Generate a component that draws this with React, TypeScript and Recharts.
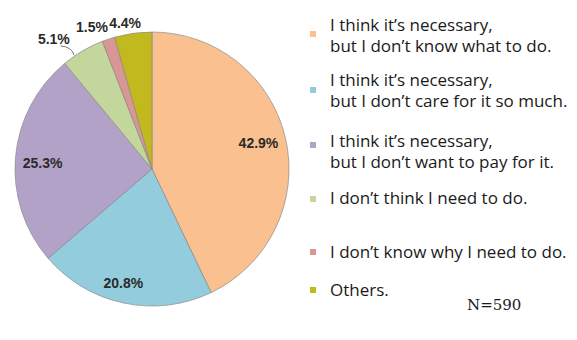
import React from "react";
import { PieChart, Pie, Cell, Legend } from "recharts";

const categories = [
  "I think it\u2019s necessary,\nbut I don\u2019t know what to do.",
  "I think it\u2019s necessary,\nbut I don\u2019t care for it so much.",
  "I think it\u2019s necessary,\nbut I don\u2019t want to pay for it.",
  "I don\u2019t think I need to do.",
  "I don\u2019t know why I need to do.",
  "Others.",
];
const shares = [42.9, 20.8, 25.3, 5.1, 1.5, 4.4];
const colors = ["#FAC08F", "#93CDDD", "#B3A2C7", "#C3D69B", "#D99694", "#C2B91E"];
const sampleNote = "N=590";

const data = categories.map((name, i) => ({ name, value: shares[i] }));

// label placement: radius factor and angle offset (deg) relative to slice middle
const labelLayout = [
  { f: 0.8, da: 1 },
  { f: 0.86, da: -2.2 },
  { f: 0.8, da: 1.6 },
  { f: 1.19, da: 6.6 },
  { f: 1.125, da: 4.4 },
  { f: 1.085, da: 2.5 },
];

const RAD = Math.PI / 180;

const renderLabel = (props: any) => {
  const { cx, cy, midAngle, outerRadius, index, value } = props;
  const lay = labelLayout[index];
  const r = outerRadius * lay.f;
  const a = (midAngle + lay.da) * RAD;
  const x = cx + r * Math.cos(a);
  const y = cy - r * Math.sin(a);
  return (
    <text
      x={x}
      y={y}
      textAnchor="middle"
      dominantBaseline="central"
      fontFamily="'Liberation Sans', Arial, sans-serif"
      fontSize={14}
      fontWeight="bold"
      fill="#2a2a2a"
    >
      {`${value.toFixed(1)}%`}
    </text>
  );
};

const renderLabelLine = (props: any) => {
  const { cx, cy, midAngle, outerRadius, index } = props;
  if (index !== 3) return <g />;
  const a1 = (midAngle + 4) * RAD;
  const x1 = cx + (outerRadius + 1) * Math.cos(a1);
  const y1 = cy - (outerRadius + 1) * Math.sin(a1);
  const a2 = (midAngle + 6.2) * RAD;
  const x2 = cx + (outerRadius * 1.12) * Math.cos(a2);
  const y2 = cy - (outerRadius * 1.12) * Math.sin(a2);
  return (
    <path
      d={`M${x1},${y1} Q${x1 - 2},${y2 + 1} ${x2},${y2}`}
      stroke="#555"
      strokeWidth={0.8}
      fill="none"
    />
  );
};

const legendRows = [
  { sq: 34, lines: [25, 46] },
  { sq: 90, lines: [80, 101] },
  { sq: 145, lines: [141, 162] },
  { sq: 199, lines: [198] },
  { sq: 252, lines: [252] },
  { sq: 290, lines: [290] },
];

const renderLegend = () => (
  <div style={{ position: "relative", width: 577, height: 340 }}>
    {categories.map((c, i) => {
      const row = legendRows[i];
      const parts = c.split("\n");
      return (
        <React.Fragment key={i}>
          <div
            style={{
              position: "absolute",
              left: 310,
              top: row.sq - 3,
              width: 6,
              height: 6,
              background: colors[i],
            }}
          />
          {parts.map((p, j) => (
            <div
              key={j}
              style={{
                position: "absolute",
                left: 330,
                top: row.lines[j] - 11,
                height: 22,
                lineHeight: "22px",
                fontFamily: "'Open Sans', Lato, sans-serif",
                fontSize: 17,
                color: "#1a1a1a",
                whiteSpace: "nowrap",
              }}
            >
              {p}
            </div>
          ))}
        </React.Fragment>
      );
    })}
    <div
      style={{
        position: "absolute",
        left: 467,
        top: 305 - 10,
        height: 20,
        lineHeight: "20px",
        fontFamily: "'DejaVu Serif', 'Liberation Serif', serif",
        fontSize: 15,
        color: "#1a1a1a",
        whiteSpace: "nowrap",
      }}
    >
      {sampleNote}
    </div>
  </div>
);

export default function App() {
  return (
    <div style={{ position: "absolute", left: 0, top: 0, background: "#fff" }}>
      <PieChart width={577} height={340} margin={{ top: 0, right: 0, bottom: 0, left: 0 }}>
        <Pie
          data={data}
          dataKey="value"
          nameKey="name"
          cx={152}
          cy={169}
          outerRadius={137}
          startAngle={90}
          endAngle={-270}
          stroke="#8a8a8a"
          strokeWidth={0.7}
          label={renderLabel}
          labelLine={renderLabelLine}
          isAnimationActive={false}
        >
          {data.map((d, i) => (
            <Cell key={i} fill={colors[i]} />
          ))}
        </Pie>
        <Legend
          content={renderLegend}
          wrapperStyle={{ left: 0, top: 0, width: 577, height: 340, bottom: "auto" }}
        />
      </PieChart>
    </div>
  );
}
